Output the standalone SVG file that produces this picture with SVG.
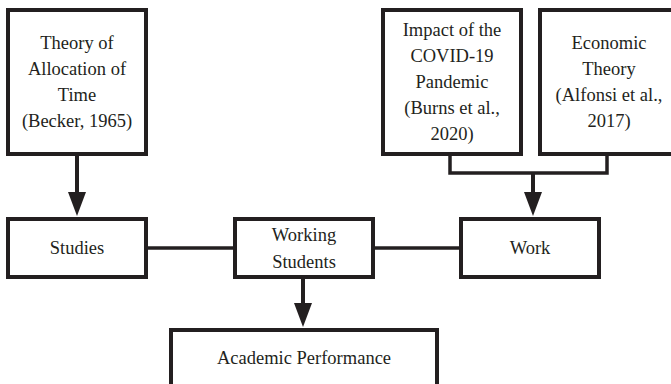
<svg xmlns="http://www.w3.org/2000/svg" width="671" height="384" viewBox="0 0 671 384">
<style>
.box{fill:#fff;stroke:#231f20;stroke-width:4}
.ln{fill:none;stroke:#231f20;stroke-width:3.5}
.stem{fill:none;stroke:#231f20;stroke-width:4}
.head{fill:#231f20}
.t{font-family:'Liberation Serif','DejaVu Serif',serif;font-size:18.5px;fill:#231f20;text-anchor:middle}
</style>
<rect width="671" height="384" fill="#fff"/>
<g id="connectors">
<line class="ln" x1="148" y1="248" x2="233" y2="248"/>
<line class="ln" x1="375" y1="248" x2="459" y2="248"/>
<path class="ln" d="M450 156 V173 H607 V156"/>
<line class="stem" x1="533" y1="173" x2="533" y2="195"/>
<polygon class="head" points="524,192 542,192 533,216"/>
<line class="stem" x1="77" y1="156" x2="77" y2="195"/>
<polygon class="head" points="68,192 86,192 77,216"/>
<line class="stem" x1="303" y1="279" x2="303" y2="306"/>
<polygon class="head" points="294,303 312,303 303,327"/>
</g>
<g id="theory-allocation" class="t" font-family="Liberation Serif, serif">
<rect class="box" x="8" y="10" width="138" height="144"/>
<text x="77" y="49">Theory of</text>
<text x="77" y="75">Allocation of</text>
<text x="77" y="101">Time</text>
<text x="77" y="127">(Becker, 1965)</text>
</g>
<g id="impact-covid" class="t" font-family="Liberation Serif, serif">
<rect class="box" x="383" y="10" width="138" height="144"/>
<text x="452" y="36">Impact of the</text>
<text x="452" y="62">COVID-19</text>
<text x="452" y="88">Pandemic</text>
<text x="452" y="114">(Burns et al.,</text>
<text x="452" y="140">2020)</text>
</g>
<g id="economic-theory" class="t" font-family="Liberation Serif, serif">
<rect class="box" x="540" y="10" width="138" height="144"/>
<text x="609" y="49">Economic</text>
<text x="609" y="75">Theory</text>
<text x="609" y="101">(Alfonsi et al.,</text>
<text x="609" y="127">2017)</text>
</g>
<g id="studies" class="t" font-family="Liberation Serif, serif">
<rect class="box" x="8" y="219" width="138" height="58"/>
<text x="77" y="254">Studies</text>
</g>
<g id="working-students" class="t" font-family="Liberation Serif, serif">
<rect class="box" x="235" y="219" width="138" height="58"/>
<text x="304" y="241">Working</text>
<text x="304" y="268">Students</text>
</g>
<g id="work" class="t" font-family="Liberation Serif, serif">
<rect class="box" x="461" y="219" width="138" height="58"/>
<text x="530" y="254">Work</text>
</g>
<g id="academic-performance" class="t" font-family="Liberation Serif, serif">
<rect class="box" x="171" y="330" width="266" height="70"/>
<text x="304" y="364">Academic Performance</text>
</g>
</svg>
